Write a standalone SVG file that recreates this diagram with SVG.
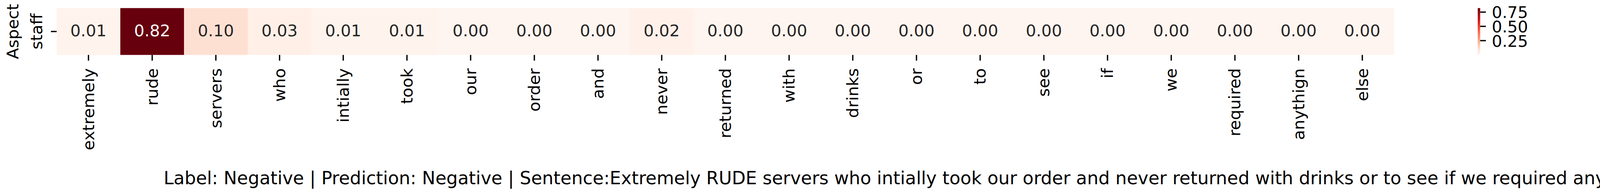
<svg xmlns="http://www.w3.org/2000/svg" width="4371" height="497" viewBox="0 0 4371 497">
<style>
text{font-family:"DejaVu Sans","Liberation Sans",sans-serif;}
.ann{font-size:41.67px;text-anchor:middle;fill:#262626;}
.annw{font-size:41.67px;text-anchor:middle;fill:#ffffff;}
.tl{font-size:41.67px;fill:#000;}
.tick{stroke:#000;stroke-width:3.33;}
.big{font-size:45.83px;fill:#000;}
</style>
<defs>
<linearGradient id="reds" x1="0" y1="1" x2="0" y2="0">
<stop offset="0" stop-color="#fff5f0"/>
<stop offset="0.125" stop-color="#fee0d2"/>
<stop offset="0.25" stop-color="#fcbba1"/>
<stop offset="0.375" stop-color="#fc9272"/>
<stop offset="0.5" stop-color="#fb6a4a"/>
<stop offset="0.625" stop-color="#ef3b2c"/>
<stop offset="0.75" stop-color="#cb181d"/>
<stop offset="0.875" stop-color="#a50f15"/>
<stop offset="1" stop-color="#67000d"/>
</linearGradient>
</defs>
<rect x="0" y="0" width="4371" height="497" fill="#ffffff"/>

<g id="heatmap">
<rect x="145" y="20.7" width="163.5" height="120" fill="#fff3ed"/>
<rect x="308.05" y="20.7" width="163.5" height="120" fill="#67000d"/>
<rect x="471.1" y="20.7" width="163.5" height="120" fill="#fee0d3"/>
<rect x="634.15" y="20.7" width="163.5" height="120" fill="#ffefe7"/>
<rect x="797.2" y="20.7" width="163.5" height="120" fill="#fff3ed"/>
<rect x="960.25" y="20.7" width="163.5" height="120" fill="#fff3ed"/>
<rect x="1123.3" y="20.7" width="163.5" height="120" fill="#fff5f0"/>
<rect x="1286.35" y="20.7" width="163.5" height="120" fill="#fff5f0"/>
<rect x="1449.4" y="20.7" width="163.5" height="120" fill="#fff5f0"/>
<rect x="1612.45" y="20.7" width="163.5" height="120" fill="#fff1ea"/>
<rect x="1775.5" y="20.7" width="163.5" height="120" fill="#fff5f0"/>
<rect x="1938.55" y="20.7" width="163.5" height="120" fill="#fff5f0"/>
<rect x="2101.6" y="20.7" width="163.5" height="120" fill="#fff5f0"/>
<rect x="2264.65" y="20.7" width="163.5" height="120" fill="#fff5f0"/>
<rect x="2427.7" y="20.7" width="163.5" height="120" fill="#fff5f0"/>
<rect x="2590.75" y="20.7" width="163.5" height="120" fill="#fff5f0"/>
<rect x="2753.8" y="20.7" width="163.5" height="120" fill="#fff5f0"/>
<rect x="2916.85" y="20.7" width="163.5" height="120" fill="#fff5f0"/>
<rect x="3079.9" y="20.7" width="163.5" height="120" fill="#fff5f0"/>
<rect x="3242.95" y="20.7" width="163.5" height="120" fill="#fff5f0"/>
<rect x="3406" y="20.7" width="163" height="120" fill="#fff5f0"/>
</g>

<g id="annotations">
<text class="ann" x="226.5" y="93.2">0.01</text>
<text class="annw" x="389.6" y="93.2">0.82</text>
<text class="ann" x="552.6" y="93.2">0.10</text>
<text class="ann" x="715.7" y="93.2">0.03</text>
<text class="ann" x="878.7" y="93.2">0.01</text>
<text class="ann" x="1041.8" y="93.2">0.01</text>
<text class="ann" x="1204.8" y="93.2">0.00</text>
<text class="ann" x="1367.9" y="93.2">0.00</text>
<text class="ann" x="1530.9" y="93.2">0.00</text>
<text class="ann" x="1694" y="93.2">0.02</text>
<text class="ann" x="1857" y="93.2">0.00</text>
<text class="ann" x="2020.1" y="93.2">0.00</text>
<text class="ann" x="2183.1" y="93.2">0.00</text>
<text class="ann" x="2346.2" y="93.2">0.00</text>
<text class="ann" x="2509.2" y="93.2">0.00</text>
<text class="ann" x="2672.3" y="93.2">0.00</text>
<text class="ann" x="2835.3" y="93.2">0.00</text>
<text class="ann" x="2998.4" y="93.2">0.00</text>
<text class="ann" x="3161.4" y="93.2">0.00</text>
<text class="ann" x="3324.5" y="93.2">0.00</text>
<text class="ann" x="3487.5" y="93.2">0.00</text>
</g>

<g id="yaxis">
<line class="tick" x1="130.4" y1="80.7" x2="145" y2="80.7"/>
<text class="tl" transform="translate(108 80.7) rotate(-90)" text-anchor="middle">staff</text>
<text class="tl" transform="translate(46.5 80.7) rotate(-90)" text-anchor="middle">Aspect</text>
</g>

<g id="xaxis">
<g class="tick">
<line x1="226.5" y1="140.7" x2="226.5" y2="155.3"/>
<line x1="389.6" y1="140.7" x2="389.6" y2="155.3"/>
<line x1="552.6" y1="140.7" x2="552.6" y2="155.3"/>
<line x1="715.7" y1="140.7" x2="715.7" y2="155.3"/>
<line x1="878.7" y1="140.7" x2="878.7" y2="155.3"/>
<line x1="1041.8" y1="140.7" x2="1041.8" y2="155.3"/>
<line x1="1204.8" y1="140.7" x2="1204.8" y2="155.3"/>
<line x1="1367.9" y1="140.7" x2="1367.9" y2="155.3"/>
<line x1="1530.9" y1="140.7" x2="1530.9" y2="155.3"/>
<line x1="1694" y1="140.7" x2="1694" y2="155.3"/>
<line x1="1857" y1="140.7" x2="1857" y2="155.3"/>
<line x1="2020.1" y1="140.7" x2="2020.1" y2="155.3"/>
<line x1="2183.1" y1="140.7" x2="2183.1" y2="155.3"/>
<line x1="2346.2" y1="140.7" x2="2346.2" y2="155.3"/>
<line x1="2509.2" y1="140.7" x2="2509.2" y2="155.3"/>
<line x1="2672.3" y1="140.7" x2="2672.3" y2="155.3"/>
<line x1="2835.3" y1="140.7" x2="2835.3" y2="155.3"/>
<line x1="2998.4" y1="140.7" x2="2998.4" y2="155.3"/>
<line x1="3161.4" y1="140.7" x2="3161.4" y2="155.3"/>
<line x1="3324.5" y1="140.7" x2="3324.5" y2="155.3"/>
<line x1="3487.5" y1="140.7" x2="3487.5" y2="155.3"/>
</g>
<g class="tl" text-anchor="end">
<text transform="translate(240.5 174.8) rotate(-90)">extremely</text>
<text transform="translate(403.6 174.8) rotate(-90)">rude</text>
<text transform="translate(566.6 174.8) rotate(-90)">servers</text>
<text transform="translate(729.7 174.8) rotate(-90)">who</text>
<text transform="translate(892.7 174.8) rotate(-90)">intially</text>
<text transform="translate(1055.8 174.8) rotate(-90)">took</text>
<text transform="translate(1218.8 174.8) rotate(-90)">our</text>
<text transform="translate(1381.9 174.8) rotate(-90)">order</text>
<text transform="translate(1544.9 174.8) rotate(-90)">and</text>
<text transform="translate(1708 174.8) rotate(-90)">never</text>
<text transform="translate(1871 174.8) rotate(-90)">returned</text>
<text transform="translate(2034.1 174.8) rotate(-90)">with</text>
<text transform="translate(2197.1 174.8) rotate(-90)">drinks</text>
<text transform="translate(2360.2 174.8) rotate(-90)">or</text>
<text transform="translate(2523.2 174.8) rotate(-90)">to</text>
<text transform="translate(2686.3 174.8) rotate(-90)">see</text>
<text transform="translate(2849.3 174.8) rotate(-90)">if</text>
<text transform="translate(3012.4 174.8) rotate(-90)">we</text>
<text transform="translate(3175.4 174.8) rotate(-90)">required</text>
<text transform="translate(3338.5 174.8) rotate(-90)">anythign</text>
<text transform="translate(3501.5 174.8) rotate(-90)">else</text>
</g>
</g>

<g id="colorbar">
<rect x="3783" y="20.7" width="6.3" height="120" fill="url(#reds)"/>
<line class="tick" x1="3789.3" y1="31" x2="3803.9" y2="31"/>
<line class="tick" x1="3789.3" y1="67.5" x2="3803.9" y2="67.5"/>
<line class="tick" x1="3789.3" y1="104.1" x2="3803.9" y2="104.1"/>
<text class="tl" x="3819" y="46">0.75</text>
<text class="tl" x="3819" y="83">0.50</text>
<text class="tl" x="3819" y="119.8">0.25</text>
</g>

<g id="caption">
<text class="big" x="419" y="471.7" textLength="3932" lengthAdjust="spacingAndGlyphs">Label: Negative | Prediction: Negative | Sentence:Extremely RUDE servers who intially took our order and never returned with drinks or to see if we required anythign else.</text>
</g>
</svg>
